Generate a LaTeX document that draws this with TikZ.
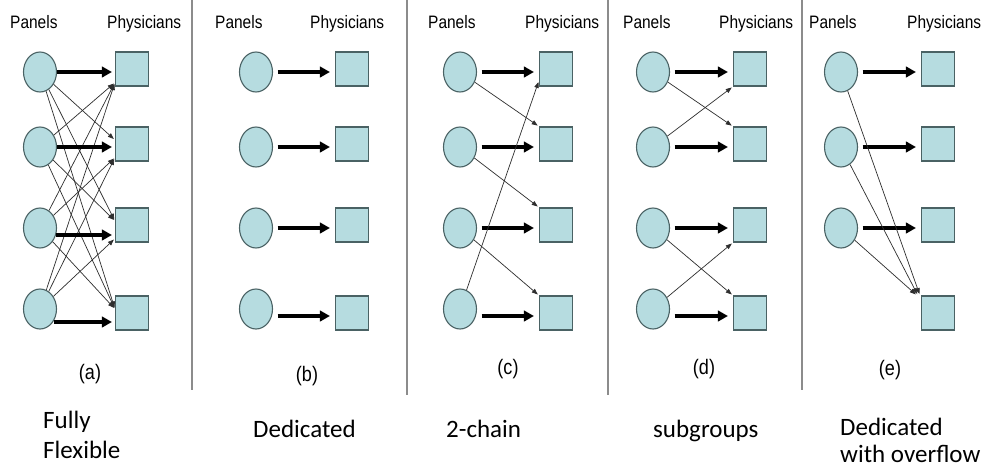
\documentclass[tikz,border=0pt]{standalone}
\usepackage{graphicx}
\usepackage{fontspec}
\setmainfont{Carlito}
\newfontfamily\arialfont{Liberation Sans}
\usetikzlibrary{shapes.geometric,arrows.meta}

\definecolor{paneltint}{HTML}{B6DCE0}
\definecolor{edgegray}{HTML}{4A6264}
\definecolor{rulegray}{HTML}{8C8C8C}
\definecolor{thinink}{HTML}{2E2E2E}

\tikzset{
  panel/.style={ellipse, draw=edgegray, fill=paneltint, line width=1.1pt,
    minimum width=33pt, minimum height=40pt, inner sep=0pt},
  doc/.style={rectangle, draw=edgegray, fill=paneltint, line width=1.1pt,
    minimum width=33pt, minimum height=34pt, inner sep=0pt},
  main/.style={line width=3.3pt, -{Triangle[length=10pt,width=10.5pt]},
    shorten <=4.5pt, shorten >=5pt},
  extra/.style={line width=0.7pt, draw=thinink, -{Triangle[length=6pt,width=4.5pt]},
    shorten >=1.5pt},
  head/.style={font=\arialfont\fontsize{18}{20}\selectfont, anchor=base west, inner sep=0pt},
  tag/.style={font=\arialfont\fontsize{21}{24}\selectfont, inner sep=0pt},
  caption/.style={font=\fontsize{25}{30}\selectfont, anchor=base west,
    inner sep=0pt, align=left},
  divider/.style={draw=rulegray, line width=1.5pt},
}

\newcommand{\narrow}[1]{\scalebox{0.86}[1]{#1}}

\begin{document}
\begin{tikzpicture}[x=1pt, y=-1pt]
  \fill[white] (0,0) rectangle (984,469);
  \useasboundingbox (0,0) rectangle (984,469);

  % dividers between the five configurations
  \draw[divider] (192,0) -- (192,390);
  \draw[divider] (407,0) -- (407,395);
  \draw[divider] (608,0) -- (608,395);
  \draw[divider] (802,0) -- (802,390);

  % column headings
  \foreach \px/\qx in {10/107, 215/310, 428/525, 623/719, 809/907} {
    \node[head] at (\px,28) {\narrow{Panels}};
    \node[head] at (\qx,28) {\narrow{Physicians}};
  }

  % panels (circles) and physicians (squares)
  \foreach \p/\cx/\sx in {a/40/132, b/256/352, c/460/556, d/653/750, e/841/938} {
    \node[doc] (\p-s1) at (\sx,69) {};
    \node[doc] (\p-s2) at (\sx,144) {};
    \node[doc] (\p-s3) at (\sx,225) {};
    \node[doc] (\p-s4) at (\sx,313) {};
    \node[panel] (\p-c1) at (\cx,72) {};
    \node[panel] (\p-c2) at (\cx,147) {};
    \node[panel] (\p-c3) at (\cx,228) {};
  }
  \foreach \p/\cx in {a/40, b/256, c/460, d/653} {
    \node[panel] (\p-c4) at (\cx,309) {};
  }

  % (a) fully flexible: every panel to every physician
  \foreach \i in {1,...,4} {
    \foreach \j in {1,...,4} {
      \ifnum\i<\j
        \draw[extra] (a-c\i) -- ([yshift=4pt]a-s\j.west);
      \fi
      \ifnum\i>\j
        \draw[extra] (a-c\i) -- ([yshift=4pt]a-s\j.south west);
      \fi
    }
  }
  \draw[main, shorten <=0pt, shorten >=3pt] (a-c1) -- (a-s1.west |- a-c1);
  \draw[main, shorten <=0pt, shorten >=3pt] (a-c2) -- (a-s2.west |- a-c2);
  \draw[main, shorten <=0pt, shorten >=3pt] ([xshift=-1pt,yshift=-7pt]a-c3.east) -- ([yshift=-7pt]a-c3.east -| a-s3.west);
  \draw[main, shorten <=0pt, shorten >=3pt] ([xshift=-3pt,yshift=-13pt]a-c4.east) -- ([yshift=-13pt]a-c4.east -| a-s4.west);

  % (b)-(d) dedicated links
  \foreach \p in {b,c,d} {
    \draw[main] (\p-c1) -- (\p-s1.west |- \p-c1);
    \draw[main] (\p-c2) -- (\p-s2.west |- \p-c2);
    \draw[main] (\p-c3) -- (\p-s3.west |- \p-c3);
    \draw[main] ([yshift=-7pt]\p-c4.east) -- ([yshift=-7pt]\p-c4.east -| \p-s4.west);
  }

  % (c) 2-chain
  \draw[extra] (c-c1) -- (c-s2.north west);
  \draw[extra] (c-c2) -- (c-s3.north west);
  \draw[extra] (c-c3) -- (c-s4.north west);
  \draw[extra] (c-c4) -- ([yshift=6pt]c-s1.south west);

  % (d) subgroups
  \draw[extra] (d-c1) -- (d-s2.north west);
  \draw[extra] (d-c2) -- (d-s1.south west);
  \draw[extra] (d-c3) -- (d-s4.north west);
  \draw[extra] (d-c4) -- (d-s3.south west);

  % (e) dedicated with overflow
  \draw[main] (e-c1) -- (e-s1.west |- e-c1);
  \draw[main] (e-c2) -- (e-s2.west |- e-c2);
  \draw[main] (e-c3) -- (e-s3.west |- e-c3);
  \draw[extra] (e-c1) -- ([xshift=-1pt]e-s4.north west);
  \draw[extra] (e-c2) -- ([xshift=-3pt]e-s4.north west);
  \draw[extra] (e-c3) -- ([xshift=-4pt]e-s4.north west);

  % configuration tags
  \node[tag] (tag-a) at (90,374) {\narrow{(a)}};
  \node[tag] (tag-b) at (307,376) {\narrow{(b)}};
  \node[tag] (tag-c) at (508,369) {\narrow{(c)}};
  \node[tag] (tag-d) at (704,369) {\narrow{(d)}};
  \node[tag] (tag-e) at (890,370) {\narrow{(e)}};

  % configuration names (base anchor sits on the last line)
  \node[caption] (name-a) at (43,458) {Fully\\Flexible};
  \node[caption] (name-b) at (253,437) {Dedicated};
  \node[caption] (name-c) at (446,437) {2-chain};
  \node[caption] (name-d) at (653,437) {subgroups};
  \node[caption] (name-e) at (840,462) {Dedicated\\[-3pt]with overflow};
\end{tikzpicture}
\end{document}
